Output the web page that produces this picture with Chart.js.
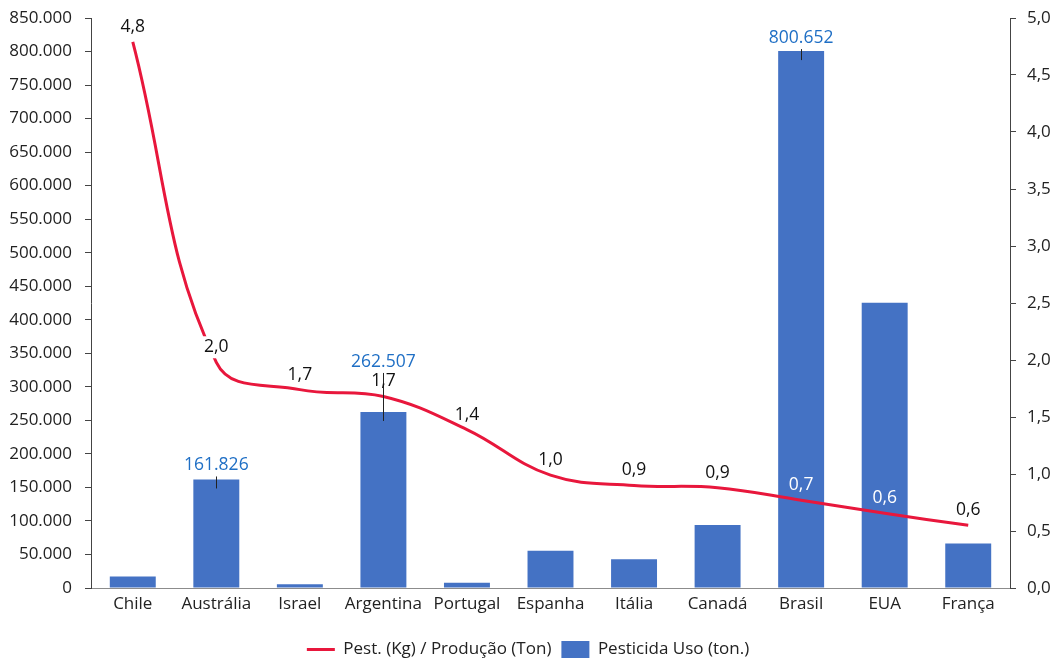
<!DOCTYPE html>
<html><head><meta charset="utf-8">
<script src="https://cdn.jsdelivr.net/npm/chart.js@4.4.1/dist/chart.umd.min.js"></script>
<style>html,body{margin:0;padding:0;background:#fff}#wrap{width:1056px;height:659px;position:relative}</style>
</head><body><div id="wrap"><canvas id="c" width="1056" height="659"></canvas></div>
<script>
// ---- data ----
const categories = ['Chile','Austrália','Israel','Argentina','Portugal','Espanha','Itália','Canadá','Brasil','EUA','França'];
const pesticideUse = [17000,161826,5500,262507,8000,55500,43000,94000,800652,425500,66500];
const ratioKgPerTon = [4.79,1.98,1.74,1.68,1.39,0.99,0.90,0.88,0.77,0.655,0.55];
const ratioLabels = ['4,8','2,0','1,7','1,7','1,4','1,0','0,9','0,9','0,7','0,6','0,6'];
const barValueLabels = ['','161.826','','262.507','','','','','800.652','',''];
const seriesNames = ['Pest. (Kg) / Produção (Ton)','Pesticida Uso (ton.)'];

// ---- styles ----
const FONT = '"Open Sans", sans-serif';
const FS = 17;
const RED = '#E8173C';
const BLUE = '#4472C4';
const LABEL_BLUE = '#1F6FC5';
const lineLabelColor = i => (i === 8 || i === 9) ? '#ffffff' : '#111111';
const lineLabelBg = i => i === 1;
const barLabelOffset = {1: 14, 3: 50, 8: 13};

const fmtThousands = v => {
  const s = Math.round(v).toString();
  return s.replace(/\B(?=(\d{3})+(?!\d))/g, '.');
};

const labelPlugin = {
  id: 'labels',
  afterDatasetsDraw(chart) {
    const ctx = chart.ctx;
    ctx.save();
    ctx.font = '17.5px ' + FONT;
    ctx.textAlign = 'center';
    ctx.textBaseline = 'middle';
    // bar labels
    const bm = chart.getDatasetMeta(1);
    bm.data.forEach((el, i) => {
      const t = barValueLabels[i];
      if (!t) return;
      const off = barLabelOffset[i] || 14;
      const ty = el.y - off;
      ctx.strokeStyle = '#222';
      ctx.lineWidth = 1;
      ctx.beginPath();
      ctx.moveTo(Math.round(el.x) + 0.5, ty + 11);
      ctx.lineTo(Math.round(el.x) + 0.5, el.y + 9);
      ctx.stroke();
      ctx.fillStyle = LABEL_BLUE;
      ctx.fillText(t, el.x, ty);
    });
    // line labels
    const lm = chart.getDatasetMeta(0);
    lm.data.forEach((el, i) => {
      const t = ratioLabels[i];
      const ty = el.y - 15;
      if (lineLabelBg(i)) {
        const w = ctx.measureText(t).width + 4;
        ctx.fillStyle = '#fff';
        ctx.fillRect(el.x - w / 2, ty - 11, w, 22);
      }
      ctx.fillStyle = lineLabelColor(i);
      ctx.fillText(t, el.x, ty);
    });
    ctx.restore();
  }
};

new Chart(document.getElementById('c'), {
  data: {
    labels: categories,
    datasets: [
      {
        type: 'line',
        label: seriesNames[0],
        data: ratioKgPerTon,
        yAxisID: 'y1',
        borderColor: RED,
        backgroundColor: RED,
        borderWidth: 3,
        pointRadius: 0,
        tension: 0.4,
        order: 0
      },
      {
        type: 'bar',
        label: seriesNames[1],
        data: pesticideUse,
        yAxisID: 'y',
        backgroundColor: BLUE,
        borderWidth: 0,
        barPercentage: 0.55,
        categoryPercentage: 1,
        order: 1
      }
    ]
  },
  options: {
    responsive: false,
    animation: false,
    devicePixelRatio: 1,
    layout: { padding: { top: 18, left: 0, right: 0, bottom: 0 } },
    plugins: {
      tooltip: { enabled: false },
      legend: {
        position: 'bottom',
        maxHeight: 28,
        labels: {
          font: { family: FONT, size: FS },
          color: '#222',
          usePointStyle: true,
          pointStyleWidth: 28,
          boxWidth: 28,
          boxHeight: 18,
          padding: 10,
          generateLabels(chart) {
            return [
              { text: seriesNames[0], pointStyle: 'line', strokeStyle: RED, fillStyle: RED, lineWidth: 3, datasetIndex: 0, hidden: false, fontColor: '#222' },
              { text: seriesNames[1], pointStyle: 'rect', strokeStyle: BLUE, fillStyle: BLUE, lineWidth: 0, datasetIndex: 1, hidden: false, fontColor: '#222' }
            ];
          }
        }
      }
    },
    scales: {
      x: {
        grid: { display: false, drawTicks: false },
        border: { display: true, color: '#8c8c8c', width: 1 },
        ticks: { font: { family: FONT, size: FS }, color: '#222', padding: 6, maxRotation: 0 },
        afterFit(s) { s.height = 43; }
      },
      y: {
        position: 'left',
        min: 0, max: 850000,
        ticks: { stepSize: 50000, font: { family: FONT, size: FS }, color: '#222', padding: 13,
          callback: v => fmtThousands(v) },
        grid: { display: true, drawOnChartArea: false, drawTicks: true, tickLength: 6, color: '#444' },
        border: { display: true, color: '#444', width: 1 },
        afterFit(s) { s.width = 91; s.paddingTop = 0; s.paddingBottom = 0; }
      },
      y1: {
        position: 'right',
        min: 0, max: 5,
        ticks: { stepSize: 0.5, font: { family: FONT, size: FS }, color: '#222', padding: 11,
          callback: v => v.toFixed(1).replace('.', ',') },
        grid: { display: true, drawOnChartArea: false, drawTicks: true, tickLength: 6, color: '#444' },
        border: { display: true, color: '#444', width: 1 },
        afterFit(s) { s.width = 46; s.paddingTop = 0; s.paddingBottom = 0; }
      }
    }
  },
  plugins: [labelPlugin]
});
</script>
</body></html>
